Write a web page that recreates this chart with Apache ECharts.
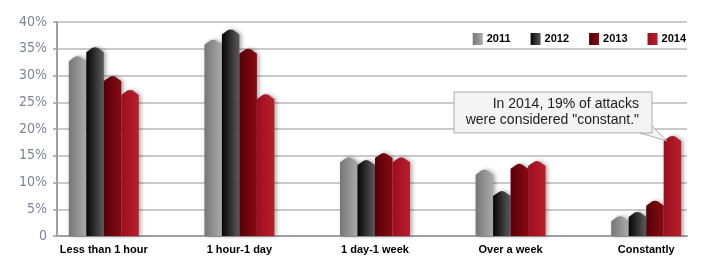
<!DOCTYPE html>
<html>
<head>
<meta charset="utf-8">
<script src="https://cdn.jsdelivr.net/npm/echarts@6/dist/echarts.min.js"></script>
<style>
html,body{margin:0;padding:0;background:#fff;}
#chart{width:714px;height:266px;}
</style>
</head>
<body>
<div id="chart"></div>
<script>
const categories = ['Less than 1 hour', '1 hour-1 day', '1 day-1 week', 'Over a week', 'Constantly'];
const years = ['2011', '2012', '2013', '2014'];
const v2011 = [33.6, 36.7, 14.7, 12.4, 3.7];
const v2012 = [35.3, 38.6, 14.2, 8.4, 4.5];
const v2013 = [29.9, 35.0, 15.5, 13.5, 6.6];
const v2014 = [27.3, 26.5, 14.7, 14.0, 18.7];
const yTicks = [0, 5, 10, 15, 20, 25, 30, 35, 40];

const seriesValues = [v2011, v2012, v2013, v2014];
const gradStops = [
  ['#767676', '#ababab'],
  ['#050505', '#5c5c5c'],
  ['#560006', '#870b14'],
  ['#9a0f1f', '#bb1e2e']
];
function grad(i){
  return new echarts.graphic.LinearGradient(0, 0, 1, 0, [
    {offset: 0, color: gradStops[i][0]},
    {offset: 1, color: gradStops[i][1]}
  ]);
}

const chart = echarts.init(document.getElementById('chart'), null, {renderer: 'canvas'});

function makeRender(k){
  return function(params, api){
    const ci = api.value(0);
    const v = api.value(1);
    const top = api.coord([ci, v]);
    const base = api.coord([ci, 0]);
    const band = api.size([1, 0])[0];
    const w = band * 0.129;
    const x = top[0] + (k - 1.5) * w - w / 2;
    const cap = 5;
    const t = top[1];
    const pts = [
      [x, base[1]],
      [x, t + cap],
      [x + w * 0.35, t + 0.6],
      [x + w * 0.5, t],
      [x + w * 0.65, t + 0.6],
      [x + w, t + cap],
      [x + w, base[1]]
    ];
    return {
      type: 'polygon',
      shape: {points: pts},
      style: {
        fill: grad(k),
        shadowBlur: 4,
        shadowColor: 'rgba(0,0,0,0.35)',
        shadowOffsetX: 2,
        shadowOffsetY: 0
      }
    };
  };
}

const series = years.map((y, k) => ({
  name: y,
  type: 'custom',
  xAxisIndex: 1,
  yAxisIndex: 1,
  renderItem: makeRender(k),
  itemStyle: {color: grad(k)},
  encode: {x: 0, y: 1},
  data: seriesValues[k].map((v, i) => [i, v]),
  z: 3
}));

// dummy series to anchor grid 0
series.push({
  type: 'line', xAxisIndex: 0, yAxisIndex: 0, data: [], silent: true
});

const option = {
  animation: false,
  backgroundColor: '#fff',
  grid: [
    {left: 57, right: 27, top: 22, bottom: 30},
    {left: 36, right: 0, top: 22, bottom: 30}
  ],
  legend: {
    data: years,
    right: 28,
    top: 31,
    itemWidth: 10,
    itemHeight: 12,
    itemGap: 20,
    icon: 'rect',
    textStyle: {fontFamily: 'Liberation Sans, Arial, sans-serif', fontWeight: 'bold', fontSize: 11, color: '#000', padding: [0, 0, 0, -1]},
    backgroundColor: '#fff',
    padding: [2, 0, 2, 6]
  },
  xAxis: [
    {
      gridIndex: 0,
      type: 'category',
      data: categories,
      axisLine: {show: true, lineStyle: {color: '#a0a0a0', width: 2}},
      axisTick: {show: false},
      axisLabel: {show: false},
      splitLine: {show: false}
    },
    {
      gridIndex: 1,
      type: 'category',
      data: categories,
      axisLine: {show: false},
      axisTick: {show: false},
      axisLabel: {
        show: true,
        fontFamily: 'Liberation Sans, Arial, sans-serif',
        fontWeight: 'bold',
        fontSize: 11,
        color: '#000',
        margin: 8
      },
      splitLine: {show: false}
    }
  ],
  yAxis: [
    {
      gridIndex: 0,
      type: 'value',
      min: 0,
      max: 40,
      interval: 5,
      axisLine: {show: true, lineStyle: {color: '#a0a0a0', width: 2}},
      axisTick: {show: true, length: 4, lineStyle: {color: '#a0a0a0', width: 1.5}},
      axisLabel: {
        formatter: v => (yTicks.indexOf(v) === 0 ? '0' : v + '%'),
        fontFamily: 'Liberation Sans Narrow, DejaVu Sans Condensed, sans-serif',
        fontSize: 14,
        color: '#7d8593',
        margin: 10
      },
      splitLine: {show: true, lineStyle: {color: '#b8b8b8', width: 1.5}}
    },
    {
      gridIndex: 1,
      type: 'value',
      min: 0,
      max: 40,
      interval: 5,
      show: false
    }
  ],
  series: series,
  graphic: [
    {
      type: 'polygon',
      z: 10,
      shape: {points: [[640, 133], [652, 126], [667, 141]]},
      style: {fill: '#f3f3f3', stroke: '#9a9a9a', lineWidth: 0.8}
    },
    {
      type: 'rect',
      z: 11,
      shape: {x: 454, y: 92, width: 198, height: 41},
      style: {fill: '#f3f3f3', stroke: '#9a9a9a', lineWidth: 0.8}
    },
    {
      type: 'text',
      z: 12,
      style: {
        x: 639, y: 96,
        text: 'In 2014, 19% of attacks\nwere considered "constant."',
        align: 'right',
        verticalAlign: 'top',
        fontFamily: 'Liberation Sans, Arial, sans-serif',
        fontSize: 14,
        lineHeight: 16,
        fill: '#222'
      }
    }
  ]
};
chart.setOption(option);
</script>
</body>
</html>
